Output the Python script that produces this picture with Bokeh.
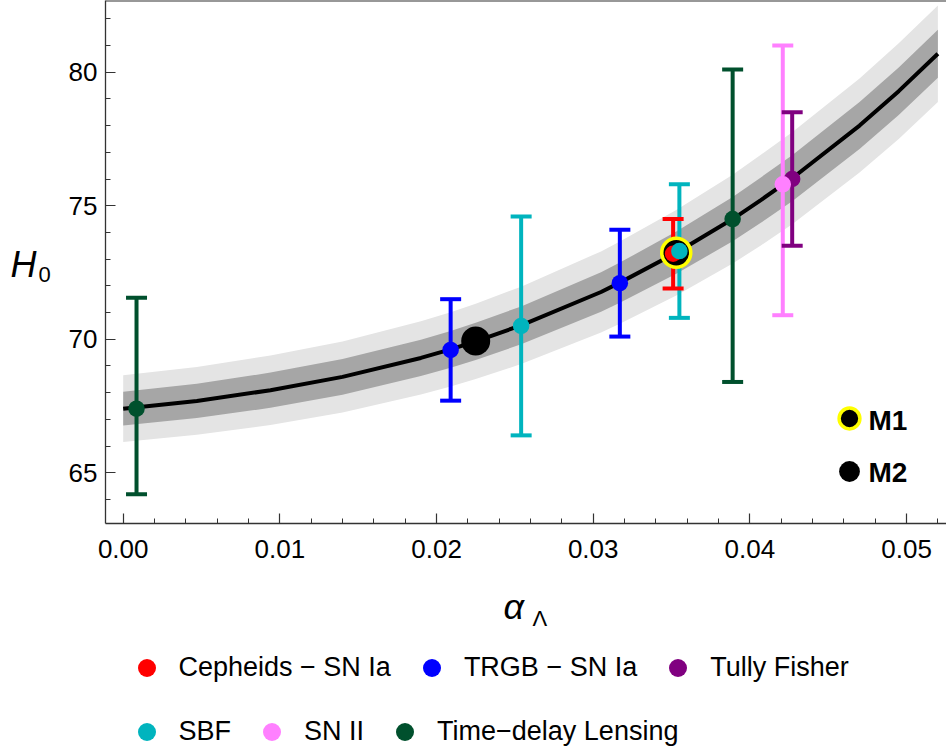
from bokeh.plotting import figure
from bokeh.layouts import column, row
from bokeh.models import (SingleIntervalTicker, PrintfTickFormatter, Legend, LegendItem,
                          Label, Span, Range1d)
from bokeh.embed import file_html
from bokeh.resources import INLINE

# ---- model curve H0(alpha_Lambda) with 1 sigma / 2 sigma half-widths
curve_alpha = [0.0, 0.0047, 0.0094, 0.014, 0.019, 0.0209, 0.0225, 0.0254, 0.0305, 0.0317,
               0.0353, 0.0389, 0.0407, 0.0427, 0.047, 0.0495, 0.052]
curve_h0 = [67.40, 67.69, 68.09, 68.59, 69.30, 69.62, 69.92, 70.52, 71.77, 72.12,
            73.24, 74.50, 75.21, 76.03, 78.00, 79.29, 80.69]
band_1sigma = [0.63, 0.64, 0.66, 0.67, 0.68, 0.69, 0.70, 0.71, 0.74, 0.75,
               0.79, 0.83, 0.85, 0.86, 0.88, 0.89, 0.90]
band_2sigma = [1.25, 1.27, 1.30, 1.33, 1.37, 1.39, 1.41, 1.45, 1.52, 1.54,
               1.60, 1.66, 1.70, 1.72, 1.76, 1.79, 1.81]

# ---- measurements
cep_alpha = [0.0351]; cep_h0 = [73.2]; cep_up = [1.3]; cep_dn = [1.3]
trgb_alpha = [0.0209, 0.0317]; trgb_h0 = [69.6, 72.1]; trgb_up = [1.9, 2.0]; trgb_dn = [1.9, 2.0]
tf_alpha = [0.0427]; tf_h0 = [76.0]; tf_up = [2.5]; tf_dn = [2.5]
sbf_alpha = [0.0254, 0.0355]; sbf_h0 = [70.5, 73.3]; sbf_up = [4.1, 2.5]; sbf_dn = [4.1, 2.5]
sn2_alpha = [0.0421]; sn2_h0 = [75.8]; sn2_up = [5.2]; sn2_dn = [4.9]
tdl_alpha = [0.00085, 0.0389]; tdl_h0 = [67.4, 74.5]; tdl_up = [4.15, 5.6]; tdl_dn = [3.2, 6.1]

m1_alpha = [0.0353]; m1_h0 = [73.24]
m2_alpha = [0.0225]; m2_h0 = [69.93]

series_names = ["Cepheids \u2212 SN Ia", "TRGB \u2212 SN Ia", "Tully Fisher",
                "SBF", "SN II", "Time\u2212delay Lensing"]
series_colors = ["#FF0000", "#0000FF", "#800080", "#00B4BE", "#FF80FF", "#00502D"]
series_data = [(cep_alpha, cep_h0, cep_up, cep_dn), (trgb_alpha, trgb_h0, trgb_up, trgb_dn),
               (tf_alpha, tf_h0, tf_up, tf_dn), (sbf_alpha, sbf_h0, sbf_up, sbf_dn),
               (sn2_alpha, sn2_h0, sn2_up, sn2_dn), (tdl_alpha, tdl_h0, tdl_up, tdl_dn)]

X_MIN, X_MAX = -0.00113, 0.05255
Y_MIN, Y_MAX = 63.10, 82.685
FONT = "Liberation Sans"

# ================= main plot =================
p = figure(width=886, height=585, output_backend="svg", toolbar_location=None,
           x_range=Range1d(X_MIN, X_MAX), y_range=Range1d(Y_MIN, Y_MAX),
           min_border_left=45, min_border_right=0, min_border_top=0, min_border_bottom=62)
p.background_fill_color = "white"
p.border_fill_color = "white"
p.outline_line_color = None
p.grid.visible = False

lo2 = [c - s for c, s in zip(curve_h0, band_2sigma)]
hi2 = [c + s for c, s in zip(curve_h0, band_2sigma)]
lo1 = [c - s for c, s in zip(curve_h0, band_1sigma)]
hi1 = [c + s for c, s in zip(curve_h0, band_1sigma)]
p.varea(x=curve_alpha, y1=lo2, y2=hi2, fill_color="#E4E4E4")
p.varea(x=curve_alpha, y1=lo1, y2=hi1, fill_color="#A6A6A6")
p.line(x=curve_alpha, y=curve_h0, line_color="black", line_width=4)

bar_order = [3, 4, 5, 0, 1, 2]
for i in bar_order:
    a, h, up, dn = series_data[i]
    c = series_colors[i]
    hi = [v + u for v, u in zip(h, up)]
    lo = [v - d for v, d in zip(h, dn)]
    p.segment(x0=a, y0=lo, x1=a, y1=hi, line_color=c, line_width=4)
    p.scatter(x=a + a, y=hi + lo, marker="dash", size=21, line_color=c, line_width=4)

m2 = p.scatter(x=m2_alpha, y=m2_h0, size=29, fill_color="black", line_color=None)
m1 = p.scatter(x=m1_alpha, y=m1_h0, size=29, fill_color="black", line_color="#FFFF00", line_width=3.5)

for i in range(6):
    a, h, up, dn = series_data[i]
    p.scatter(x=a, y=h, size=16.5, fill_color=series_colors[i], line_color=None)

p.xaxis.ticker = SingleIntervalTicker(interval=0.01, num_minor_ticks=5)
p.yaxis.ticker = SingleIntervalTicker(interval=5, num_minor_ticks=5)
p.xaxis.formatter = PrintfTickFormatter(format="%.2f")
p.yaxis.formatter = PrintfTickFormatter(format="%d")
for ax in (p.xaxis[0], p.yaxis[0]):
    ax.major_tick_in = 10
    ax.major_tick_out = 0
    ax.minor_tick_in = 5
    ax.minor_tick_out = 0
    ax.axis_line_color = "#333333"
    ax.axis_line_width = 1.3
    ax.major_tick_line_color = "#333333"
    ax.minor_tick_line_color = "#333333"
    ax.major_tick_line_width = 1.2
    ax.minor_tick_line_width = 1.0
    ax.major_label_text_font = FONT
    ax.major_label_text_font_size = "26px"
    ax.major_label_text_color = "black"
p.xaxis.major_label_standoff = 16
p.yaxis.major_label_standoff = 8

p.add_layout(Span(location=Y_MAX, dimension="width", line_color="#333333", line_width=2))

# M1 / M2 key inside the frame
mlg = Legend(items=[LegendItem(label="", renderers=[m1]), LegendItem(label="", renderers=[m2])],
             location=(717.75, 26.25), orientation="vertical",
             glyph_width=52, glyph_height=52, label_standoff=0, label_width=0, spacing=1,
             padding=0, margin=0, border_line_color=None, background_fill_alpha=0)
p.add_layout(mlg)
p.add_layout(Label(x=763, y=103, x_units="screen", y_units="screen", text="M1",
                   text_font=FONT, text_font_size="28px", text_font_style="bold",
                   text_baseline="middle", text_color="black"))
p.add_layout(Label(x=763, y=51, x_units="screen", y_units="screen", text="M2",
                   text_font=FONT, text_font_size="28px", text_font_style="bold",
                   text_baseline="middle", text_color="black"))

# ================= left strip: H0 axis title =================
left = figure(width=60, height=585, output_backend="svg", toolbar_location=None,
              x_range=Range1d(0, 1), y_range=Range1d(0, 1), x_axis_type=None, y_axis_type=None,
              min_border_left=0, min_border_right=0, min_border_top=0, min_border_bottom=0)
left.outline_line_color = None
left.grid.visible = False
left.add_layout(Label(x=10, y=264, x_units="canvas", y_units="canvas", text="H",
                      text_font=FONT, text_font_size="36px", text_font_style="italic",
                      text_baseline="middle", text_color="black"))
left.add_layout(Label(x=38, y=274, x_units="canvas", y_units="canvas", text="0",
                      text_font=FONT, text_font_size="22px",
                      text_baseline="middle", text_color="black"))

# ================= bottom strip: alpha_Lambda title and legend =================
bottom = figure(width=946, height=166, output_backend="svg", toolbar_location=None,
                x_range=Range1d(0, 1), y_range=Range1d(0, 1), x_axis_type=None, y_axis_type=None,
                min_border_left=0, min_border_right=0, min_border_top=0, min_border_bottom=0)
bottom.outline_line_color = None
bottom.grid.visible = False
bottom.add_layout(Label(x=503, y=21, x_units="canvas", y_units="canvas", text="\u03b1",
                        text_font=FONT, text_font_size="36px", text_font_style="italic",
                        text_baseline="middle", text_color="black"))
bottom.add_layout(Label(x=532, y=33, x_units="canvas", y_units="canvas", text="\u039b",
                        text_font=FONT, text_font_size="22px",
                        text_baseline="middle", text_color="black"))

# legend renderers (series data, lying outside this strip's visible range)
key_renderers = []
for i in range(6):
    a, h, up, dn = series_data[i]
    key_renderers.append(bottom.scatter(x=a, y=h, size=16.5, fill_color=series_colors[i],
                                        line_color=None))

def make_legend(idx, loc):
    items = [LegendItem(label=series_names[i], renderers=[key_renderers[i]]) for i in idx]
    return Legend(items=items, location=loc, orientation="horizontal",
                  glyph_width=45, glyph_height=45, label_standoff=10, spacing=18,
                  padding=0, margin=0, border_line_color=None, background_fill_alpha=0,
                  label_text_font=FONT, label_text_font_size="27px", label_text_color="black")

bottom.add_layout(make_legend([0, 1, 2], (123.5, 61.5)))
bottom.add_layout(make_legend([3, 4, 5], (123.5, -2.5)))

layout = column(row(left, p), bottom)
open("out.html", "w").write(file_html(layout, INLINE))
